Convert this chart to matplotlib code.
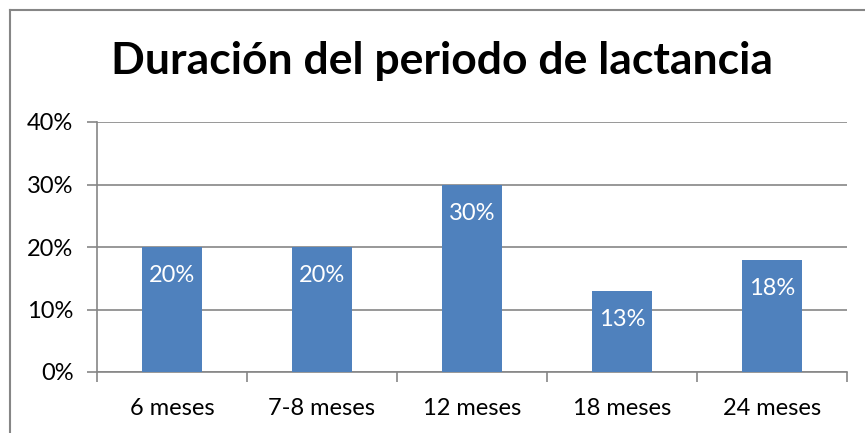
import matplotlib
matplotlib.use("Agg")
import matplotlib.pyplot as plt
from matplotlib.lines import Line2D
from matplotlib.ticker import FuncFormatter

categories = ["6 meses", "7-8 meses", "12 meses", "18 meses", "24 meses"]
values = [0.20, 0.20, 0.30, 0.13, 0.18]
labels = ["20%", "20%", "30%", "13%", "18%"]
yticks = [0.0, 0.1, 0.2, 0.3, 0.4]
title = "Duración del periodo de lactancia"

plt.rcParams['font.family'] = ['Lato', 'DejaVu Sans']

fig = plt.figure(figsize=(8.65, 4.33), dpi=100)
ax = fig.add_axes([97/865, 1-372/433, 750/865, 250/433])

x = list(range(len(categories)))
bars = ax.bar(x, values, width=0.4, color="#4F81BD", zorder=3)
for b, lab in zip(bars, labels):
    ax.text(b.get_x() + b.get_width()/2, b.get_height() - 0.046, lab,
            ha="center", va="center", color="white", fontsize=17, zorder=4)

ax.set_xlim(-0.5, len(categories) - 0.5)
ax.set_ylim(0, 0.4)
ax.set_yticks(yticks)
ax.yaxis.set_major_formatter(FuncFormatter(lambda v, p: f"{v*100:.0f}%"))
ax.set_xticks(x)
ax.set_xticklabels(categories)
ax.set_xticks([i - 0.5 for i in range(len(categories) + 1)], minor=True)
ax.tick_params(axis="x", which="major", length=0, labelsize=17, pad=19)
ax.tick_params(axis="x", which="minor", length=7, color="#868686", width=1.2)
ax.tick_params(axis="y", length=7, color="#868686", width=1.2, labelsize=17, pad=10)

ax.grid(axis="y", color="#868686", linewidth=1.2, zorder=0)
for s in ["top", "right"]:
    ax.spines[s].set_visible(False)
for s in ["left", "bottom"]:
    ax.spines[s].set_color("#868686")
    ax.spines[s].set_linewidth(1.2)

fig.text(442/865, 1-61/433, title, ha="center", va="center",
         fontsize=32, fontweight="bold", color="black")

# chart border (left and top visible)
fig.add_artist(Line2D([9.5/865, 9.5/865], [0, 1-9.5/433], transform=fig.transFigure, color="#868686", linewidth=1.5))
fig.add_artist(Line2D([9.5/865, 1], [1-9.5/433, 1-9.5/433], transform=fig.transFigure, color="#868686", linewidth=1.5))

fig.savefig("out.png", dpi=100)
